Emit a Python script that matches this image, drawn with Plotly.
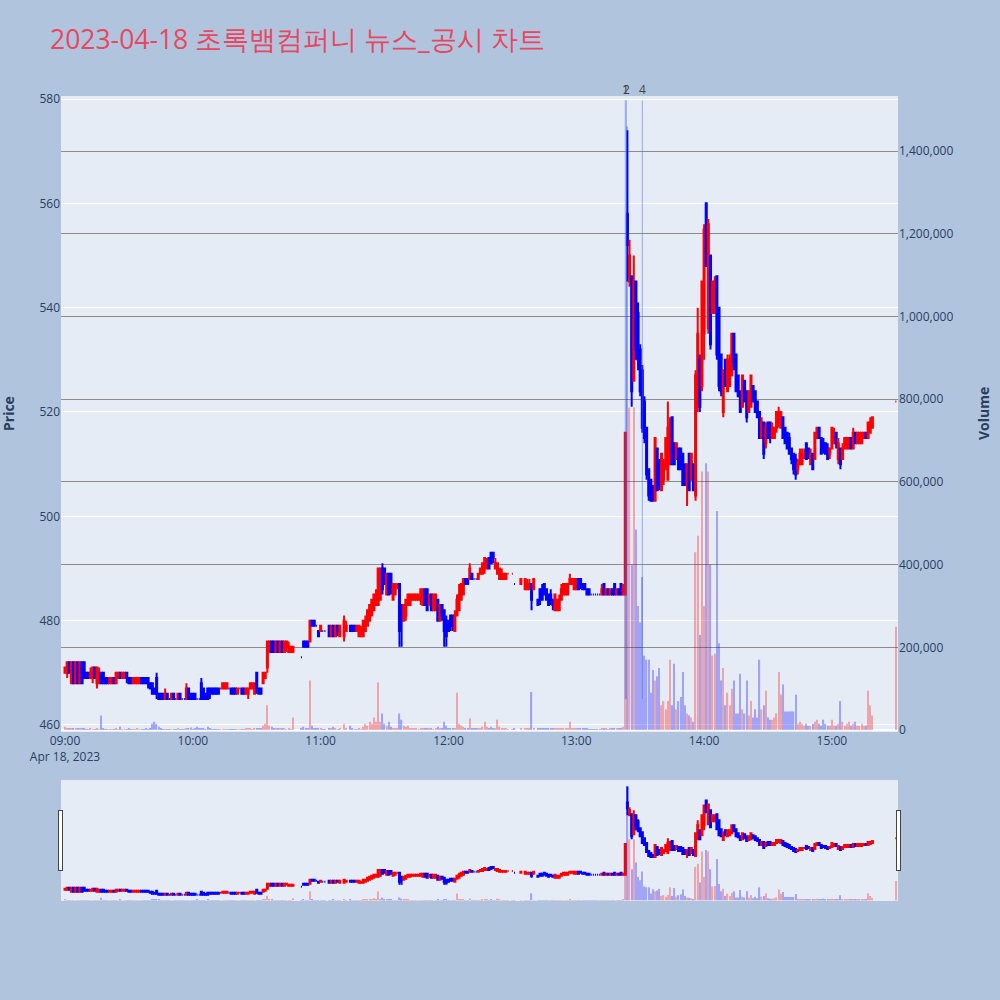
import plotly.graph_objects as go
import pandas as pd

# ---- data: 1-minute candles 09:00 .. 15:19 (None = no trade), plus 15:30 closing auction ----
start_time = "2023-04-18 09:00"
n_minutes = 380

opens = [
 470,470,472,468,472,468,472,468,472,472,
 470,470,469,469,471,468,468,470,470,469,
 469,468,468,469,468,469,470,469,469,470,
 469,469,468,468,468,468,469,469,469,469,
 468,468,467,469,466,466,466,465,466,465,
 465,466,465,465,466,465,465,465,467,466,
 466,466,465,465,468,467,466,467,467,467,
 467,467,467,467,467,467,467,467,467,467,
 467,466,467,467,467,466,466,467,467,466,
 470,467,467,468,469,471,474,476,476,474,
 476,474,476,474,475,474,474,474,None,None,
 None,473,476,476,476,476,480,480,479,478,
 478,478,478,None,479,477,479,477,479,477,
 None,477,478,None,479,479,479,478,477,477,
 477,478,479,480,481,482,483,483,484,490,
 490,485,489,489,484,485,487,487,483,480,
 481,483,483,484,484,484,484,484,483,486,
 486,483,485,482,482,484,480,483,482,480,
 480,481,481,478,481,482,484,485,488,488,
 488,489,488,488,488,489,489,490,490,492,
 493,493,490,489,488,488,488,488,489,None,
 489,487,None,None,487,None,486,486,486,487,
 486,None,484,486,486,487,486,485,485,484,
 482,482,482,484,485,485,485,487,487,486,
 486,488,488,487,487,486,486,485,485,485,
 485,485,485,487,485,486,485,486,487,485,
 486,487,485,485,558,545,546,526,545,539,
 532,528,522,517,509,507,505,503,513,510,
 505,507,509,507,510,519,514,511,513,513,
 512,510,506,512,507,510,504,521,530,525,
 535,560,536,550,539,539,546,540,531,520,
 530,524,525,527,535,531,527,524,521,526,
 524,520,521,525,524,522,520,515,518,514,
 518,518,515,515,517,518,517,519,517,516,
 515,513,512,511,509,510,510,512,514,513,
 510,512,511,515,517,515,514,514,513,512,
 513,514,516,511,513,511,513,513,513,515,
 513,516,514,514,514,515,516,515,516,517,
]
highs = [
 471,472,472,472,472,472,472,472,472,472,
 470,470,471,471,471,471,471,470,470,469,
 469,469,469,469,470,470,470,470,470,470,
 469,469,469,469,469,469,469,469,469,469,
 468,468,467,470,466,466,466,467,466,465,
 466,466,465,466,466,465,465,468,467,466,
 466,466,465,465,469,467,466,467,467,467,
 467,467,467,467,468,468,468,467,467,467,
 467,467,467,467,467,467,467,468,468,468,
 470,467,467,470,470,476,476,476,476,476,
 476,476,476,476,476,476,475,475,None,None,
 None,473,476,476,476,480,480,480,479,478,
 479,478,478,None,479,479,479,479,479,479,
 None,481,480,None,479,479,479,479,479,479,
 480,481,482,483,484,485,486,490,490,491,
 490,489,489,489,487,487,487,487,483,483,
 484,485,485,485,485,485,485,486,486,486,
 486,485,485,485,485,484,483,483,482,481,
 480,481,481,482,485,487,487,488,488,488,
 491,489,488,488,489,490,491,492,492,492,
 493,493,492,491,490,490,489,489,489,None,
 489,487,None,None,488,None,488,488,488,487,
 488,None,484,486,487,487,486,485,486,484,
 485,484,485,487,487,487,487,489,488,488,
 488,488,488,487,487,486,486,485,485,485,
 485,485,487,487,486,486,486,486,487,486,
 486,487,487,516,574,553,546,550,545,541,
 533,529,523,517,509,507,506,515,513,511,
 512,511,515,522,519,519,514,514,513,513,
 512,510,510,512,512,510,528,540,531,545,
 556,560,557,550,545,546,546,540,531,528,
 530,531,531,535,535,531,527,524,527,526,
 524,524,527,525,524,522,520,519,518,518,
 518,518,518,517,520,521,520,519,517,516,
 516,513,512,512,511,513,513,513,514,513,
 513,512,516,517,517,515,515,514,514,513,
 517,517,516,515,513,514,515,515,515,515,
 517,516,516,516,516,516,516,518,519,519,
]
lows = [
 470,469,470,468,468,468,468,468,468,469,
 469,469,469,468,469,467,468,468,468,468,
 468,468,468,468,468,469,469,469,469,468,
 468,468,468,468,468,468,468,468,468,467,
 467,466,466,465,465,465,465,465,465,465,
 465,465,465,465,465,465,465,465,465,465,
 465,465,465,465,465,465,465,465,465,466,
 466,466,466,467,467,467,467,467,466,466,
 466,466,467,466,466,466,465,467,467,466,
 466,466,466,468,469,470,474,474,474,474,
 474,474,474,474,474,474,474,474,None,None,
 None,473,475,475,475,476,479,479,479,477,
 478,478,478,None,477,477,477,477,477,477,
 None,476,478,None,478,478,478,478,477,477,
 477,478,479,480,481,482,483,483,484,485,
 487,485,485,485,484,485,486,475,475,480,
 480,483,483,484,484,484,484,483,483,483,
 482,483,482,482,482,480,480,480,475,475,
 478,478,478,478,481,482,484,485,487,487,
 488,488,488,488,488,489,489,489,490,490,
 491,491,490,489,488,488,488,488,489,None,
 489,487,None,None,487,None,486,486,486,482,
 486,None,483,483,484,485,484,483,483,482,
 482,482,482,484,485,485,485,487,487,486,
 486,486,486,486,486,485,485,485,485,485,
 485,485,485,485,485,485,485,485,485,485,
 485,485,485,485,545,544,521,526,530,528,
 523,516,514,507,503,503,503,503,505,505,
 505,506,509,507,510,510,510,511,509,509,
 506,506,502,505,507,505,503,520,520,524,
 530,548,535,532,539,539,530,524,523,519,
 525,524,525,527,528,524,523,520,521,522,
 518,520,521,522,520,519,515,515,511,513,
 515,514,515,515,516,517,517,515,514,513,
 512,510,508,507,508,510,510,511,511,511,
 510,509,511,515,515,512,512,512,511,511,
 513,514,513,510,509,511,513,513,513,513,
 513,514,514,514,514,515,515,515,516,517,
]
closes = [
 471,472,470,472,468,472,468,472,468,469,
 469,469,470,471,469,471,470,468,468,468,
 468,469,469,468,470,470,469,470,470,469,
 468,468,469,469,469,469,468,468,468,468,
 467,466,466,466,465,465,465,466,465,465,
 466,465,465,466,465,465,465,467,465,465,
 465,465,465,465,465,465,465,465,466,466,
 466,466,466,467,468,468,468,467,466,466,
 466,467,467,466,466,467,467,468,468,468,
 467,466,466,470,470,476,476,474,474,476,
 474,476,474,476,476,475,475,475,None,None,
 None,473,475,475,475,480,479,479,479,477,
 479,478,478,None,477,479,477,479,478,479,
 None,480,479,None,478,478,478,479,479,478,
 480,480,482,483,484,485,485,490,490,486,
 487,489,485,486,487,487,487,478,480,483,
 484,485,485,485,485,485,485,486,486,483,
 482,485,482,485,485,480,483,481,478,477,
 478,479,479,481,484,485,487,488,487,487,
 490,488,488,488,489,490,491,492,491,490,
 491,492,491,491,490,489,489,489,489,None,
 489,487,None,None,488,None,488,487,487,484,
 488,None,483,484,484,485,484,483,484,483,
 485,484,484,486,487,487,487,488,488,488,
 488,486,487,486,486,485,485,485,485,485,
 485,485,486,485,486,485,486,485,485,486,
 485,485,486,516,552,550,524,545,532,530,
 524,517,515,508,504,503,503,515,505,506,
 512,510,515,517,518,510,510,514,509,509,
 506,506,510,505,512,505,527,535,521,545,
 555,548,556,533,545,545,531,525,524,528,
 525,530,530,535,529,524,523,520,527,522,
 519,524,527,522,520,519,515,518,512,517,
 515,515,517,517,520,520,520,515,514,513,
 512,511,509,508,510,512,512,512,511,512,
 512,509,516,517,515,512,513,512,511,513,
 517,516,514,514,510,513,515,515,515,513,
 516,514,516,516,516,516,515,518,518,519,
]
# traded volume, thousands of shares
volumes_k = [
 8,5,3,4,5,4,3,3,4,3,
 2,2,3,2,2,3,2,35,3,2,
 2,2,2,2,3,2,8,2,2,2,
 3,2,2,2,3,2,2,2,3,2,
 5,15,20,15,8,3,2,2,2,2,
 2,2,2,3,2,2,2,3,3,6,
 2,3,8,3,4,3,2,8,3,2,
 2,2,2,2,2,2,2,2,2,2,
 2,2,2,2,2,3,5,3,2,5,
 3,5,4,10,15,60,10,8,5,5,
 3,3,5,3,2,3,2,30,None,None,
 None,5,8,5,3,120,10,5,3,5,
 3,2,2,None,5,3,8,3,2,3,
 None,15,5,None,10,3,2,2,3,2,
 8,15,10,20,15,30,20,115,20,40,
 15,10,20,8,5,5,3,40,25,10,
 8,10,5,3,3,3,2,3,5,3,
 5,3,3,2,5,8,3,5,20,10,
 5,3,3,5,90,15,10,8,5,3,
 28,5,3,3,5,5,8,20,8,5,
 8,5,5,25,8,5,3,3,2,None,
 2,3,None,None,3,None,5,3,3,92,
 5,None,5,3,5,3,3,5,3,3,
 5,3,3,5,3,3,5,20,5,3,
 3,3,5,3,3,3,2,2,2,2,
 2,2,3,3,3,2,3,3,5,3,
 3,3,8,720,1460,780,400,780,485,300,
 260,370,180,170,170,90,145,120,130,150,
 60,70,50,70,170,60,160,50,70,80,
 140,60,40,35,30,20,430,470,230,625,
 300,645,625,400,180,185,530,210,120,150,
 60,90,60,100,120,40,40,136,50,40,
 120,35,70,30,50,30,170,50,60,95,
 30,25,25,30,40,140,86,110,45,45,
 45,45,45,85,15,20,15,10,15,10,
 10,15,20,25,15,10,25,15,10,10,
 25,10,10,15,70,20,10,15,20,10,
 15,20,10,10,15,10,10,95,60,35,
]
# closing single-price auction
close_auction_time = "2023-04-18 15:30"
close_auction_price = 522
close_auction_volume_k = 250

# news / disclosure markers
news_labels = ["1", "2", "4"]
news_times = ["2023-04-18 13:23:00", "2023-04-18 13:23:30", "2023-04-18 13:31:00"]

# ---- assemble ----
times = list(pd.date_range(start_time, periods=n_minutes, freq="min")) + [pd.Timestamp(close_auction_time)]
o = opens + [close_auction_price]
h = highs + [close_auction_price]
l = lows + [close_auction_price]
c = closes + [close_auction_price]
v = [None if x is None else x * 1000 for x in volumes_k] + [close_auction_volume_k * 1000]

# volume colour follows the candle direction (flat candles compare with previous close)
vol_colors = []
prev_close, prev_dir = None, "red"
for oi, ci in zip(o, c):
    if oi is None:
        vol_colors.append("red")
        continue
    if ci > oi:
        d = "red"
    elif ci < oi:
        d = "blue"
    else:
        if prev_close is None or ci == prev_close:
            d = prev_dir
        else:
            d = "red" if ci > prev_close else "blue"
    vol_colors.append(d)
    prev_close, prev_dir = ci, d

valid_lows = [x for x in l if x is not None]
valid_highs = [x for x in h if x is not None]
line_lo = min(valid_lows)
line_hi = max(valid_highs) * 1.01

x_range = ["2023-04-18 08:58:07", "2023-04-18 15:31:01"]

fig = go.Figure()
fig.add_trace(go.Candlestick(
    x=times, open=o, high=h, low=l, close=c,
    increasing=dict(line=dict(color="red"), fillcolor="red"),
    decreasing=dict(line=dict(color="blue"), fillcolor="blue"),
    showlegend=False, name="Price", yaxis="y",
))
fig.add_trace(go.Bar(
    x=times, y=v, width=36000, marker=dict(color=vol_colors, line=dict(width=0)),
    opacity=0.3, showlegend=False, name="Volume", yaxis="y2",
))

for lab, t in zip(news_labels, news_times):
    fig.add_shape(type="line", xref="x", yref="y", x0=t, x1=t, y0=line_lo, y1=line_hi,
                  line=dict(color="rgba(65,105,225,0.5)", width=1))
    fig.add_annotation(x=t, y=line_hi, xref="x", yref="y", text=lab, showarrow=False,
                       yanchor="bottom", xanchor="center", font=dict(size=12, color="#444"))

# axis titles placed as rotated labels in the margins
fig.add_annotation(text="<b>Price</b>", xref="paper", yref="paper", x=-0.0633, y=0.5,
                   textangle=-90, showarrow=False, xanchor="center", yanchor="middle",
                   font=dict(size=14, color="#2a3f5f"))
fig.add_annotation(text="<b>Volume</b>", xref="paper", yref="paper", x=1.1016, y=0.5,
                   textangle=-90, showarrow=False, xanchor="center", yanchor="middle",
                   font=dict(size=14, color="#2a3f5f"))

fig.update_layout(
    width=1000, height=1000,
    template="plotly",
    paper_bgcolor="#b0c4de",
    plot_bgcolor="#e5ecf6",
    title=dict(text="2023-04-18 초록뱀컴퍼니 뉴스_공시 차트", x=0.05, xanchor="left",
               y=0.96, yanchor="middle", font=dict(size=26.5, color="#e8475f")),
    margin=dict(l=61, r=102, t=96, b=100),
    showlegend=False,
    xaxis=dict(type="date", range=x_range, showgrid=False,
               rangeslider=dict(visible=True, range=x_range)),
    yaxis=dict(range=[458.65, 580.58], dtick=20, showgrid=True, gridcolor="white"),
    yaxis2=dict(overlaying="y", side="right", range=[-4850, 1533600],
                tickformat=",", dtick=200000, showgrid=True, gridcolor="#8c8c8c"),
)

fig.write_html("out.html", config={"displayModeBar": False},
               post_script="document.body.style.margin='0';document.body.style.overflow='hidden';")
